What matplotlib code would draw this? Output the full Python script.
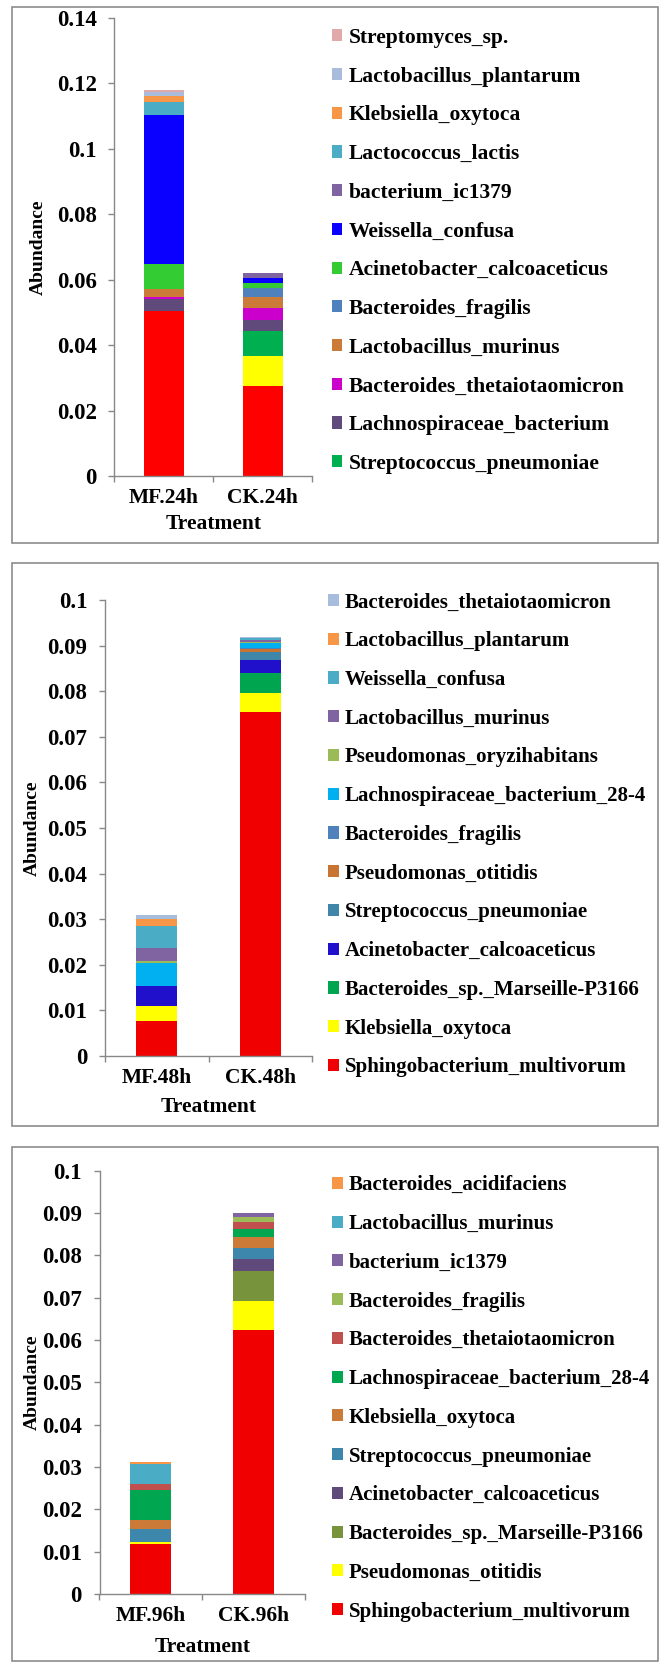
import matplotlib
matplotlib.use("Agg")
import matplotlib.pyplot as plt
from matplotlib.patches import Patch, Rectangle
import numpy as np

plt.rcParams["font.family"] = ["Liberation Serif", "DejaVu Serif"]
plt.rcParams["font.weight"] = "bold"

W, H = 664, 1662

# ---- 24h (stack order bottom -> top)
groups_24 = ["MF.24h", "CK.24h"]
species_24 = ["Sphingobacterium_multivorum", "Pseudomonas_otitidis",
              "Streptococcus_pneumoniae", "Lachnospiraceae_bacterium",
              "Bacteroides_thetaiotaomicron", "Lactobacillus_murinus",
              "Bacteroides_fragilis", "Acinetobacter_calcoaceticus",
              "Weissella_confusa", "bacterium_ic1379", "Lactococcus_lactis",
              "Klebsiella_oxytoca", "Lactobacillus_plantarum", "Streptomyces_sp."]
mf_24 = [0.0505, 0.0, 0.0, 0.0036, 0.0007, 0.0024, 0.0, 0.0076,
         0.0456, 0.0, 0.0038, 0.0019, 0.0012, 0.0007]
ck_24 = [0.0276, 0.0090, 0.0078, 0.0034, 0.0036, 0.0032, 0.0028, 0.0015,
         0.0015, 0.0017, 0.0, 0.0, 0.0, 0.0]
colors_24 = ["#ff0000", "#ffff00", "#00b050", "#604a7b", "#cc00cc", "#cc7a38",
             "#4f81bd", "#33cc33", "#0a00ff", "#8064a2", "#4bacc6", "#f79646",
             "#aabcdc", "#e0aaaa"]

# ---- 48h
groups_48 = ["MF.48h", "CK.48h"]
species_48 = ["Sphingobacterium_multivorum", "Klebsiella_oxytoca",
              "Bacteroides_sp._Marseille-P3166", "Acinetobacter_calcoaceticus",
              "Streptococcus_pneumoniae", "Pseudomonas_otitidis",
              "Bacteroides_fragilis", "Lachnospiraceae_bacterium_28-4",
              "Pseudomonas_oryzihabitans", "Lactobacillus_murinus",
              "Weissella_confusa", "Lactobacillus_plantarum",
              "Bacteroides_thetaiotaomicron"]
mf_48 = [0.0077, 0.0033, 0.0, 0.0044, 0.0, 0.0, 0.0, 0.0050, 0.0004,
         0.0029, 0.0049, 0.0015, 0.0009]
ck_48 = [0.0755, 0.0042, 0.0042, 0.0030, 0.0016, 0.0007, 0.0002, 0.0011,
         0.0003, 0.0004, 0.0004, 0.0001, 0.0001]
colors_48 = ["#f00000", "#ffff00", "#00a550", "#2010cc", "#3f86a8", "#c87533",
             "#4f81bd", "#00b0f0", "#9bbb59", "#8064a2", "#4bacc6", "#f79646",
             "#a6bddb"]

# ---- 96h
groups_96 = ["MF.96h", "CK.96h"]
species_96 = ["Sphingobacterium_multivorum", "Pseudomonas_otitidis",
              "Bacteroides_sp._Marseille-P3166", "Acinetobacter_calcoaceticus",
              "Streptococcus_pneumoniae", "Klebsiella_oxytoca",
              "Lachnospiraceae_bacterium_28-4", "Bacteroides_thetaiotaomicron",
              "Bacteroides_fragilis", "bacterium_ic1379", "Lactobacillus_murinus",
              "Bacteroides_acidifaciens"]
mf_96 = [0.0118, 0.0004, 0.0, 0.0, 0.0032, 0.0021, 0.0070, 0.0015, 0.0,
         0.0, 0.0047, 0.0005]
ck_96 = [0.0623, 0.0070, 0.0069, 0.0029, 0.0026, 0.0026, 0.0020, 0.0015,
         0.0013, 0.0010, 0.0, 0.0]
colors_96 = ["#f00000", "#ffff00", "#77933c", "#604a7b", "#3c87ab", "#cc7a38",
             "#00a650", "#c0504d", "#9bbb59", "#8064a2", "#4bacc6", "#f79646"]

GRAY = "#888888"

fig = plt.figure(figsize=(W / 100, H / 100), dpi=100)


def frame(y0, y1):
    fig.add_artist(Rectangle((12 / W, 1 - y1 / H), (658 - 12) / W, (y1 - y0) / H,
                             transform=fig.transFigure, fill=False,
                             edgecolor="#8c8c8c", linewidth=1.2))


def panel(groups, species, mf, ck, colors, ymax, ystep, n_legend,
          ax_l, ax_r, y_top, y_zero, leg_x, leg_mid, ylab_x, xlab_y,
          leg_fs, leg_sp):
    ax = fig.add_axes([ax_l / W, 1 - y_zero / H, (ax_r - ax_l) / W, (y_zero - y_top) / H])
    x = np.arange(len(groups))
    bottom = np.zeros(len(groups))
    handles = []
    for name, a, b, c in zip(species, mf, ck, colors):
        vals = np.array([a, b])
        ax.bar(x, vals, width=0.4, bottom=bottom, color=c, linewidth=0)
        bottom += vals
        handles.append(Patch(facecolor=c, edgecolor="none", label=name))

    ax.set_xlim(-0.5, 1.5)
    ax.set_ylim(0, ymax)
    yt = np.arange(0, ymax + 1e-9, ystep)
    ax.set_yticks(yt)
    ax.set_yticklabels([("%.2f" % v).rstrip("0").rstrip(".") for v in yt])
    ax.set_xticks(x)
    ax.set_xticklabels(groups)
    ax.set_xticks([-0.5, 0.5, 1.5], minor=True)
    ax.tick_params(axis="y", direction="out", length=4.3, width=1, color=GRAY,
                   pad=8.4, labelsize=16.5)
    ax.tick_params(axis="x", which="major", length=0, pad=8.5, labelsize=15.5)
    ax.tick_params(axis="x", which="minor", direction="out", length=4.3, width=1,
                   color=GRAY)
    for s in ("top", "right"):
        ax.spines[s].set_visible(False)
    for s in ("left", "bottom"):
        ax.spines[s].set_color(GRAY)
        ax.spines[s].set_linewidth(1.0)

    h = y_zero - y_top
    w = ax_r - ax_l
    ax.set_ylabel("Abundance", fontsize=14, fontweight="bold")
    ax.yaxis.set_label_coords((ylab_x - ax_l) / w, 0.5)
    ax.set_xlabel("Treatment", fontsize=15.5, fontweight="bold")
    ax.xaxis.set_label_coords(0.5, -(xlab_y - y_zero) / h)

    leg_handles = handles[::-1][:n_legend]
    hl = 0.48 * 16 / leg_fs
    ax.legend(handles=leg_handles, loc="center left",
              bbox_to_anchor=(leg_x / W, 1 - leg_mid / H),
              bbox_transform=fig.transFigure, frameon=False, fontsize=leg_fs,
              handlelength=hl, handleheight=hl, handletextpad=0.27 * 16 / leg_fs,
              labelspacing=leg_sp, borderpad=0, borderaxespad=0)
    return ax


frame(7, 543)
frame(563, 1126)
frame(1147, 1661)

panel(groups_24, species_24, mf_24, ck_24, colors_24, 0.14, 0.02, 12,
      114.3, 312.3, 18, 476, 331.7, 250.9, 47, 514, 15.5, 0.87)
panel(groups_48, species_48, mf_48, ck_48, colors_48, 0.1, 0.01, 13,
      105, 312, 600, 1056, 328, 834.9, 41, 1097, 15, 0.9)
panel(groups_96, species_96, mf_96, ck_96, colors_96, 0.1, 0.01, 12,
      99.5, 305, 1170.6, 1594, 332, 1398.4, 41, 1637, 15, 0.9)

fig.savefig("out.png", dpi=100)
